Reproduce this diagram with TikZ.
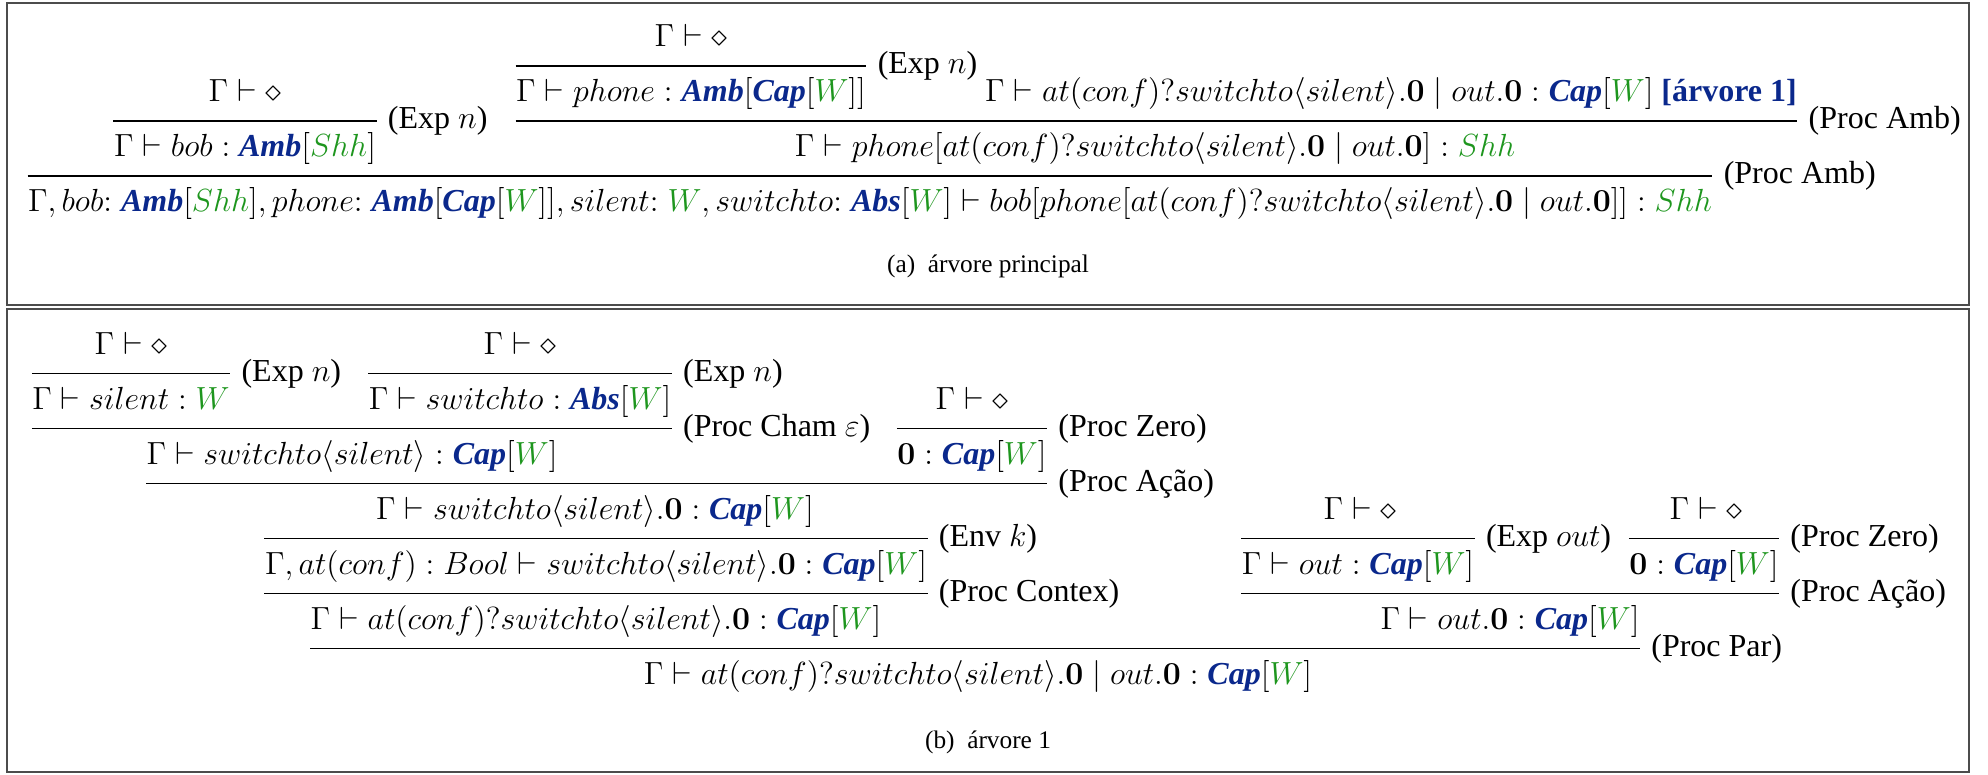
\documentclass[tikz,border=0pt]{standalone}
\usepackage[no-math]{fontspec}
\setmainfont{Liberation Serif}
\definecolor{tyblue}{RGB}{10,40,140}
\definecolor{tygreen}{RGB}{30,150,30}
\newcommand{\tAmb}{\textcolor{tyblue}{\textbf{\textit{Amb}}}}
\newcommand{\tCap}{\textcolor{tyblue}{\textbf{\textit{Cap}}}}
\newcommand{\tAbs}{\textcolor{tyblue}{\textbf{\textit{Abs}}}}
\newcommand{\gW}{\textcolor{tygreen}{W}}
\newcommand{\gShh}{\textcolor{tygreen}{Shh}}
\newcommand{\zp}{\mathbf{0}}
\newcommand{\sws}{switchto\langle silent\rangle}
\newcommand{\hc}{\colon\mkern2mu}
\begin{document}
\begin{tikzpicture}[x=.375pt,y=-.375pt,font=\fontsize{12}{14.4}\selectfont,line cap=butt]
	\tikzset{jdg/.style={inner sep=0pt,anchor=base},
		bar/.style={line width=.5pt},
		rl/.style={anchor=west,inner sep=0pt,xshift=4pt},
		frame/.style={draw=black!70,line width=.55pt},
		subcap/.style={font=\fontsize{9.5}{11.4}\selectfont}}
	\useasboundingbox (0,0) rectangle (1988,774);
	\def \aO{211.5}\def \aI{156.5}\def \aII{101.5}\def \aIII{46.5}
	\def \bO{684}\def \bI{629}\def \bII{574}\def \bIII{519}\def \bIV{464}\def \bV{409}\def \bVI{354}
	\draw[frame] (7,3) rectangle (1969,305);
	\draw[frame] (7,309) rectangle (1969,772);
	\coordinate (ya1) at (0,176);\coordinate (ya2) at (0,121);\coordinate (ya3) at (0,66);
	\coordinate (yb1) at (0,648.5);\coordinate (yb2) at (0,593.5);\coordinate (yb3) at (0,538.5);
	\coordinate (yb4) at (0,483.5);\coordinate (yb5) at (0,428.5);\coordinate (yb6) at (0,373.5);
	
	\node[jdg] (adia) at (691,\aIII) {$\Gamma\vdash\diamond$};
	\node[jdg] (aphone) at (691,\aII) {$\Gamma\vdash phone:\tAmb[\tCap[\gW]]$};
	\node[jdg] (aatc) at (1391,\aII) {$\Gamma\vdash at(conf)?\sws.\zp\mid out.\zp:\tCap[\gW]$ \textcolor{tyblue}{\textbf{[árvore 1]}}};
	\node[jdg] (aphpar) at (1155,\aI) {$\Gamma\vdash phone[at(conf)?\sws.\zp\mid out.\zp]:\gShh$};
	\node[jdg] (aldia) at (245,\aII) {$\Gamma\vdash\diamond$};
	\node[jdg] (abob) at (245,\aI) {$\Gamma\vdash bob:\tAmb[\gShh]$};
	\node[jdg] (aroot) at (870,\aO) {$\Gamma, bob\hc \tAmb[\gShh], phone\hc \tAmb[\tCap[\gW]], silent\hc \gW, switchto\hc \tAbs[\gW]\vdash bob[phone[at(conf)?\sws.\zp\mid out.\zp]]:\gShh$};
	\draw[bar] (aphone.west |- ya3) -- (aphone.east |- ya3) node[rl] {(Exp $n$)};
	\draw[bar] (aphone.west |- ya2) -- (aatc.east |- ya2) node[rl] {(Proc Amb)};
	\draw[bar] (abob.west |- ya2) -- (abob.east |- ya2) node[rl] {(Exp $n$)};
	\draw[bar] (aroot.west |- ya1) -- (aroot.east |- ya1) node[rl] {(Proc Amb)};
	\node[subcap] (capa) at (988,266) {(a)\enspace árvore principal};
	
	\node[jdg] (bdia1) at (131,\bVI) {$\Gamma\vdash\diamond$};
	\node[jdg] (bsil) at (131,\bV) {$\Gamma\vdash silent:\gW$};
	\node[jdg] (bdia2) at (520,\bVI) {$\Gamma\vdash\diamond$};
	\node[jdg] (bsw) at (520,\bV) {$\Gamma\vdash switchto:\tAbs[\gW]$};
	\node[jdg] (bswsil) at (352,\bIV) {$\Gamma\vdash \sws:\tCap[\gW]$};
	\node[jdg] (bdia3) at (972,\bV) {$\Gamma\vdash\diamond$};
	\node[jdg] (bzero1) at (972,\bIV) {$\zp:\tCap[\gW]$};
	\node[jdg] (bswz) at (595,\bIII) {$\Gamma\vdash \sws.\zp:\tCap[\gW]$};
	\node[jdg] (bbool) at (596,\bII) {$\Gamma, at(conf):Bool\vdash \sws.\zp:\tCap[\gW]$};
	\node[jdg] (batc) at (596,\bI) {$\Gamma\vdash at(conf)?\sws.\zp:\tCap[\gW]$};
	\node[jdg] (bdia4) at (1360,\bIII) {$\Gamma\vdash\diamond$};
	\node[jdg] (bout) at (1358,\bII) {$\Gamma\vdash out:\tCap[\gW]$};
	\node[jdg] (bdia5) at (1706,\bIII) {$\Gamma\vdash\diamond$};
	\node[jdg] (bzero2) at (1704,\bII) {$\zp:\tCap[\gW]$};
	\node[jdg] (bout0) at (1510,\bI) {$\Gamma\vdash out.\zp:\tCap[\gW]$};
	\node[jdg] (broot) at (978,\bO) {$\Gamma\vdash at(conf)?\sws.\zp\mid out.\zp:\tCap[\gW]$};
	\draw[bar] (bsil.west |- yb6) -- (bsil.east |- yb6) node[rl] {(Exp $n$)};
	\draw[bar] (bsw.west |- yb6) -- (bsw.east |- yb6) node[rl] {(Exp $n$)};
	\draw[bar] (bsil.west |- yb5) -- (bsw.east |- yb5) node[rl] {(Proc Cham $\varepsilon$)};
	\draw[bar] (bzero1.west |- yb5) -- (bzero1.east |- yb5) node[rl] {(Proc Zero)};
	\draw[bar] (bswsil.west |- yb4) -- (bzero1.east |- yb4) node[rl] {(Proc Ação)};
	\draw[bar] (bbool.west |- yb3) -- (bbool.east |- yb3) node[rl] {(Env $k$)};
	\draw[bar] (bout.west |- yb3) -- (bout.east |- yb3) node[rl] {(Exp $out$)};
	\draw[bar] (bzero2.west |- yb3) -- (bzero2.east |- yb3) node[rl] {(Proc Zero)};
	\draw[bar] (bbool.west |- yb2) -- (bbool.east |- yb2) node[rl] {(Proc Contex)};
	\draw[bar] (bout.west |- yb2) -- (bzero2.east |- yb2) node[rl] {(Proc Ação)};
	\draw[bar] (batc.west |- yb1) -- (bout0.east |- yb1) node[rl] {(Proc Par)};
	\node[subcap] (capb) at (988,742) {(b)\enspace árvore 1};
\end{tikzpicture}
\end{document}
